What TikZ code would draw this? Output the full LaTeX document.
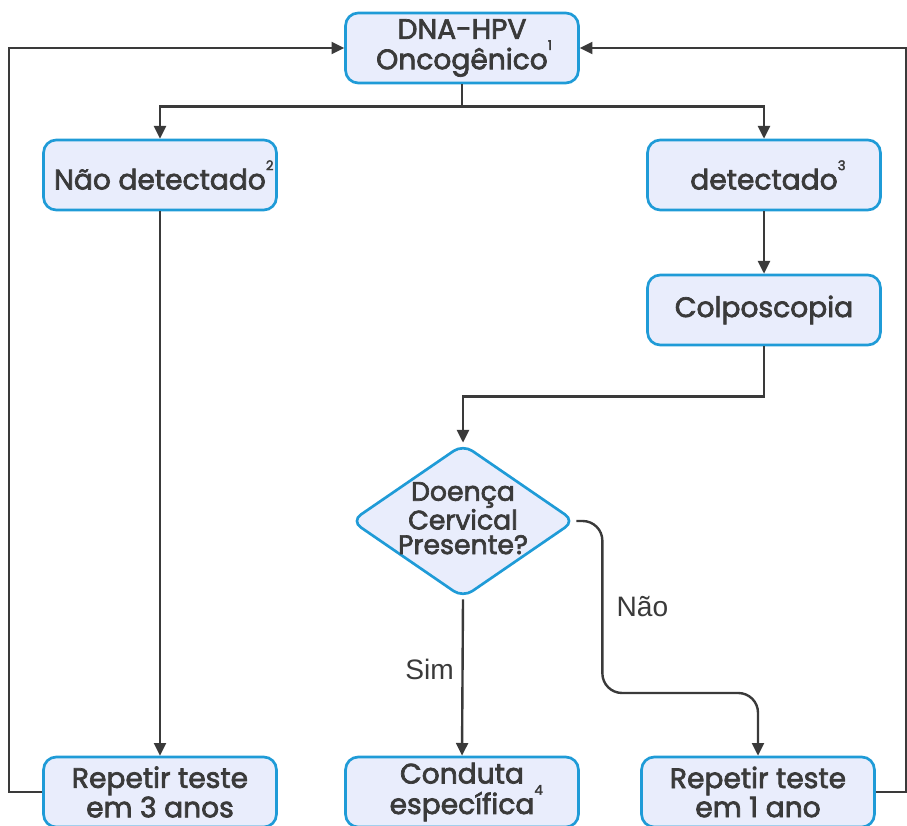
\documentclass[tikz,border=0pt]{standalone}
\usepackage{fontspec}
\setmainfont{Poppins}
\newfontfamily\boxfont{Poppins}[FakeBold=2.5]
\newfontfamily\labelfont{Liberation Sans}
\usetikzlibrary{arrows.meta,shapes.geometric}
\definecolor{boxfill}{HTML}{E9EDFC}
\definecolor{boxline}{HTML}{1F9BD7}
\definecolor{ink}{HTML}{3A3A3A}
\newcommand{\refnum}[1]{\rlap{\raisebox{1.25ex}{\fontsize{9.5}{9.5}\selectfont #1}}}
\tikzset{
  stepbox/.style={draw=boxline, line width=1.9pt, fill=boxfill, rounded corners=9pt,
    minimum width=5.82cm, minimum height=1.75cm, align=center, text=ink,
    font=\boxfont\fontsize{20}{18.5}\selectfont},
  decision/.style={diamond, draw=boxline, line width=1.9pt, fill=boxfill, rounded corners=8pt,
    minimum width=5.6cm, minimum height=3.85cm, inner sep=0pt},
  dtext/.style={align=center, text=ink, inner sep=0pt, yshift=2pt,
    font=\boxfont\fontsize{19}{17.5}\selectfont},
  link/.style={draw=ink, line width=1.7pt, -{Triangle[length=9pt,width=8.5pt]}},
  yesno/.style={font=\labelfont\fontsize{20}{20}\selectfont, text=ink}
}

\begin{document}
\begin{tikzpicture}[x=0.025cm,y=-0.025cm]
  \useasboundingbox (0,0) rectangle (907,826);
  \clip (0,0) rectangle (907,826);

  % boxes
  \node (hpv) at (462,48) [stepbox] {DNA-HPV\\Oncogênico\refnum{1}};
  \node (naod) at (160,175) [stepbox] {Não detectado\refnum{2}};
  \node (det) at (764,175) [stepbox] {detectado\refnum{3}};
  \node (colpo) at (764,310) [stepbox] {Colposcopia};
  \node (dx) at (463,521) [decision, label={[dtext]center:Doença\\Cervical\\Presente?}] {};
  \node (rep3) at (160,792) [stepbox] {Repetir teste\\em 3 anos};
  \node (cond) at (462,792) [stepbox] {Conduta\\específica\refnum{4}};
  \node (rep1) at (758,792) [stepbox] {Repetir teste\\em 1 ano};

  % connectors
  \draw[link] (hpv.south) -- ++(0,22) -| (naod.north);
  \draw[link] (hpv.south) -- ++(0,22) -| (det.north);
  \draw[link] (naod) -- (rep3);
  \draw[link] (rep3.west) -- ++(-33,0) |- (hpv.west);
  \draw[link] (det) -- (colpo);
  \draw[link] (colpo.south) -- ++(0,50) -| (dx.north);
  \draw[link] (dx.south) -- node[yesno, pos=0.45, left=2pt] {Sim} (cond.north);
  \draw[link, rounded corners=14pt] (dx.east) -- ++(26,0)
    -- node[yesno, right=6pt] {Não} ++(0,172) -| (rep1.north);
  \draw[link] (rep1.east) -- ++(30,0) |- (hpv.east);
\end{tikzpicture}
\end{document}
